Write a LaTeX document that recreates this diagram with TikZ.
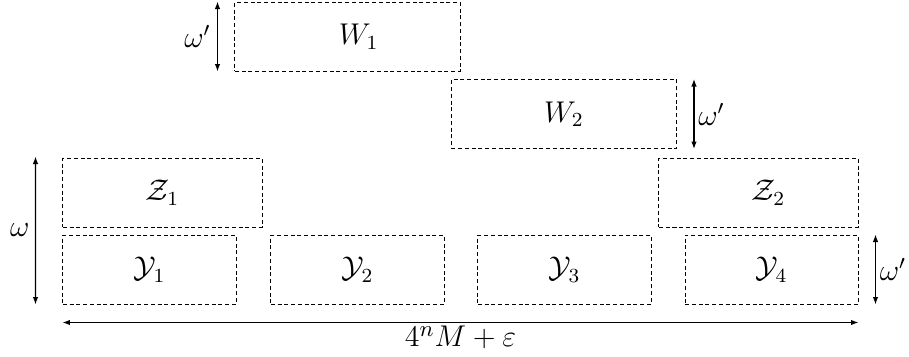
\documentclass[tikz,border=0pt]{standalone}
\usetikzlibrary{arrows.meta}
\begin{document}
\begin{tikzpicture}[x=0.4pt,y=-0.4pt,
  box/.style={draw,line width=0.4pt,dash pattern=on 1.6pt off 1.1pt,
    minimum height=27.6pt,inner sep=0pt,font=\fontsize{12}{14}\selectfont},
  wbox/.style={box,minimum width=90pt},
  zbox/.style={box,minimum width=79.6pt},
  ybox/.style={box,minimum width=69.2pt},
  dim/.style={{Latex[length=3pt,width=2.2pt]}-{Latex[length=3pt,width=2.2pt]},line width=0.45pt},
  lab/.style={font=\fontsize{12}{14}\selectfont}]
\useasboundingbox (0,0) rectangle (909,356);
\node[wbox] (W1) at (347.5,36.5) {\hspace{9pt}$W_1$};
\node[wbox] (W2) at (564,114) {$W_2$};
\node[zbox] (Z1) at (162.5,192.5) {$\mathcal{Z}_1$};
\node[zbox] (Z2) at (758.5,192.5) {\hspace{8pt}$\mathcal{Z}_2$};
\node[ybox] (Y1) at (149.5,269.5) {$\mathcal{Y}_1$};
\node[ybox] (Y2) at (357.5,269.5) {$\mathcal{Y}_2$};
\node[ybox] (Y3) at (564.5,269.5) {$\mathcal{Y}_3$};
\node[ybox] (Y4) at (771.5,269.5) {$\mathcal{Y}_4$};
\draw[dim] ([xshift=-10.8pt,yshift=0.4pt]Z1.north west) -- ([xshift=-10.8pt]Y1.south west)
  node[midway,left,lab,inner sep=2.2pt,font=\fontsize{13}{15}\selectfont] {$\omega$};
\draw[dim] ([xshift=-6.8pt]W1.north west) -- ([xshift=-6.8pt]W1.south west)
  node[midway,left,lab,inner sep=2.5pt] {$\omega'$};
\draw[dim] ([xshift=6.8pt]W2.north east) -- ([xshift=6.8pt]W2.south east)
  node[midway,right,lab,inner sep=1.5pt] {$\omega'$};
\draw[dim] ([xshift=6.8pt]Y4.north east) -- ([xshift=6.8pt]Y4.south east)
  node[midway,right,lab,inner sep=1.5pt] {$\omega'$};
\draw[dim] ([yshift=-7.2pt]Y1.south west) -- ([yshift=-7.2pt]Y4.south east)
  node[midway,below,inner sep=1.3pt,font=\fontsize{13}{15}\selectfont] {$4^nM+\varepsilon$};
\end{tikzpicture}
\end{document}
